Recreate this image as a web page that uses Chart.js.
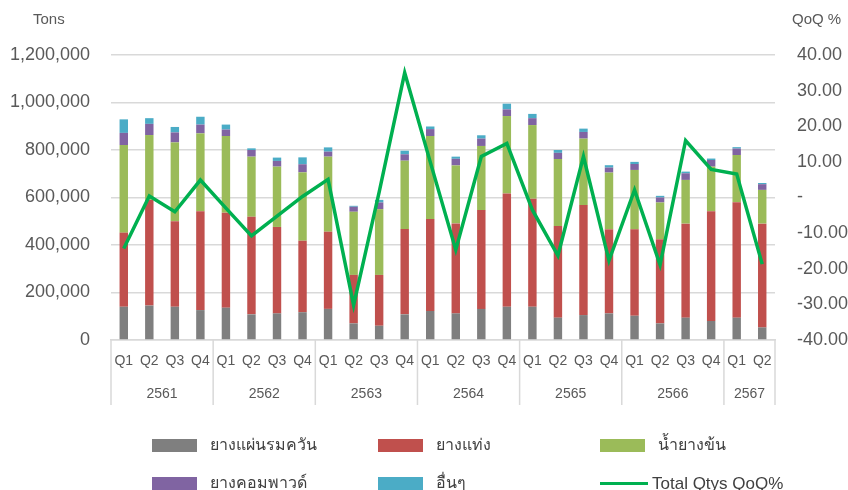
<!DOCTYPE html>
<html>
<head>
<meta charset="utf-8">
<script src="https://cdn.jsdelivr.net/npm/chart.js@4"></script>
<style>
  html,body{margin:0;padding:0;background:#fff;}
  body{width:848px;height:490px;overflow:hidden;position:relative;font-family:"Liberation Sans","Noto Sans","DejaVu Sans",sans-serif;color:#595959;}
  #wrap{position:absolute;left:0;top:0;width:848px;height:490px;}
  .ttl{position:absolute;font-size:15px;color:#595959;line-height:1;}
  .lg{position:absolute;display:flex;align-items:center;font-size:16px;color:#404040;line-height:1;white-space:nowrap;}
  .sw{width:45px;height:13px;margin-right:13px;display:inline-block;}
  .ln{width:48px;height:3px;background:#00B050;margin-right:4px;display:inline-block;}
</style>
</head>
<body>
<div id="wrap"><canvas id="c" width="848" height="490"></canvas></div>
<div class="ttl" style="left:33px;top:11px;">Tons</div>
<div class="ttl" style="left:792px;top:11px;">QoQ %</div>
<div id="legend"></div>
<script>
// ---- data ----
const quarters = ['Q1','Q2','Q3','Q4','Q1','Q2','Q3','Q4','Q1','Q2','Q3','Q4','Q1','Q2','Q3','Q4','Q1','Q2','Q3','Q4','Q1','Q2','Q3','Q4','Q1','Q2'];
const years = ['2561','2562','2563','2564','2565','2566','2567'];
const quartersPerYear = [4,4,4,4,4,4,2];
const smokedSheet = [140000,145000,140000,126000,136000,108000,112000,117000,131000,70000,60000,108000,122000,112000,131000,140000,140000,94000,105000,112000,102000,70000,94000,80000,94000,53000];
const blockRubber = [312000,445000,360000,416000,400000,411000,364000,301000,325000,204000,214000,359000,387000,379000,416000,477000,455000,386000,463000,354000,364000,354000,396000,462000,486000,437000];
const concLatex = [369000,273000,332000,328000,323000,253000,254000,288000,316000,266000,277000,288000,350000,244000,270000,326000,310000,282000,280000,239000,250000,155000,184000,188000,199000,142000];
const compound = [51000,47000,42000,37000,27000,28000,24000,34000,21000,21000,28000,27000,29000,28000,31000,28000,29000,26000,28000,21000,25000,21000,28000,28000,27000,24000];
const others = [57000,24000,23000,33000,21000,7000,14000,29000,18000,4000,11000,15000,11000,9000,14000,24000,18000,12000,14000,10000,9000,7000,7000,6000,6000,5000];
const qoq = [-14.3,0.4,-4.0,4.9,-3.0,-10.8,-5.2,0.3,5.1,-30.2,1.5,35.0,10.0,-14.7,11.5,15.2,-3.5,-16.3,11.5,-17.7,2.1,-18.9,16.0,7.9,6.6,-18.7];
const seriesNames = ['ยางแผ่นรมควัน','ยางแท่ง','น้ำยางข้น','ยางคอมพาวด์','อื่นๆ','Total Qtys QoQ%'];
const seriesColors = ['#7F7F7F','#C0504D','#9BBB59','#8064A2','#4BACC6','#00B050'];

const FONT = '"Liberation Sans","Noto Sans","DejaVu Sans",sans-serif';
const GRID = '#D9D9D9';
const TXT = '#595959';

// ---- year group plugin ----
const yearAxis = {
  id:'yearAxis',
  afterDraw(chart){
    const ctx = chart.ctx, x = chart.scales.x, a = chart.chartArea;
    const top = a.bottom, bot = 405;
    ctx.save();
    ctx.strokeStyle = GRID; ctx.lineWidth = 1.5;
    ctx.fillStyle = TXT; ctx.font = '14px ' + FONT;
    ctx.textAlign = 'center'; ctx.textBaseline = 'middle';
    let idx = 0;
    const half = (x.getPixelForValue(1) - x.getPixelForValue(0)) / 2;
    years.forEach((y, g) => {
      const n = quartersPerYear[g];
      const x0 = x.getPixelForValue(idx) - half;
      const x1 = x.getPixelForValue(idx + n - 1) + half;
      ctx.beginPath(); ctx.moveTo(x0, top); ctx.lineTo(x0, bot); ctx.stroke();
      if (g === years.length - 1) { ctx.beginPath(); ctx.moveTo(x1, top); ctx.lineTo(x1, bot); ctx.stroke(); }
      ctx.fillText(y, (x.getPixelForValue(idx) + x.getPixelForValue(idx + n - 1)) / 2, 394);
      idx += n;
    });
    ctx.restore();
  }
};

const barData = [smokedSheet, blockRubber, concLatex, compound, others];
const datasets = barData.map((d, i) => ({
  type:'bar', label:seriesNames[i], data:d, backgroundColor:seriesColors[i],
  stack:'s', yAxisID:'y', order:2, categoryPercentage:1, barPercentage:0.33
}));
datasets.push({
  type:'line', label:seriesNames[5], data:qoq, borderColor:seriesColors[5], backgroundColor:seriesColors[5],
  borderWidth:3.5, pointRadius:0, tension:0, yAxisID:'y1', order:1
});

new Chart(document.getElementById('c'), {
  data:{ labels:quarters, datasets },
  options:{
    responsive:false, animation:false,
    layout:{ padding:{ top:55, bottom:85, left:0, right:0 } },
    plugins:{ legend:{display:false}, tooltip:{enabled:false} },
    scales:{
      x:{
        stacked:true,
        grid:{ display:false, drawTicks:false },
        border:{ display:true, color:GRID, width:1.5 },
        ticks:{ color:TXT, font:{ family:FONT, size:14 }, padding:13, maxRotation:0, autoSkip:false },
        afterFit(s){ s.height = 65; }
      },
      y:{
        position:'left', stacked:true, min:0, max:1200000,
        grid:{ color:GRID, lineWidth:1.5, drawTicks:false },
        border:{ display:false },
        ticks:{ stepSize:200000, color:TXT, font:{ family:FONT, size:18 }, padding:21,
          callback:v => v.toLocaleString('en-US') },
        afterFit(s){ s.width = 111; }
      },
      y1:{
        position:'right', min:-40, max:40,
        grid:{ drawOnChartArea:false, drawTicks:false },
        border:{ display:false },
        ticks:{ stepSize:10, color:TXT, font:{ family:FONT, size:18 }, padding:22,
          callback:v => v === 0 ? '-' : v.toFixed(2) },
        afterFit(s){ s.width = 73; }
      }
    }
  },
  plugins:[yearAxis]
});

// ---- HTML legend ----
const legendPos = [[152,437],[378,437],[600,437],[152,475],[378,475],[600,475]];
const lg = document.getElementById('legend');
seriesNames.forEach((name, i) => {
  const el = document.createElement('div');
  el.className = 'lg';
  el.style.left = legendPos[i][0] + 'px';
  el.style.top = legendPos[i][1] + 'px';
  el.style.height = '16px';
  const sw = document.createElement('span');
  if (i === 5) { sw.className = 'ln'; } else { sw.className = 'sw'; sw.style.background = seriesColors[i]; }
  el.appendChild(sw);
  const t = document.createElement('span');
  t.textContent = name;
  if (i === 5) t.style.fontSize = '17px';
  el.appendChild(t);
  lg.appendChild(el);
});
</script>
</body>
</html>
